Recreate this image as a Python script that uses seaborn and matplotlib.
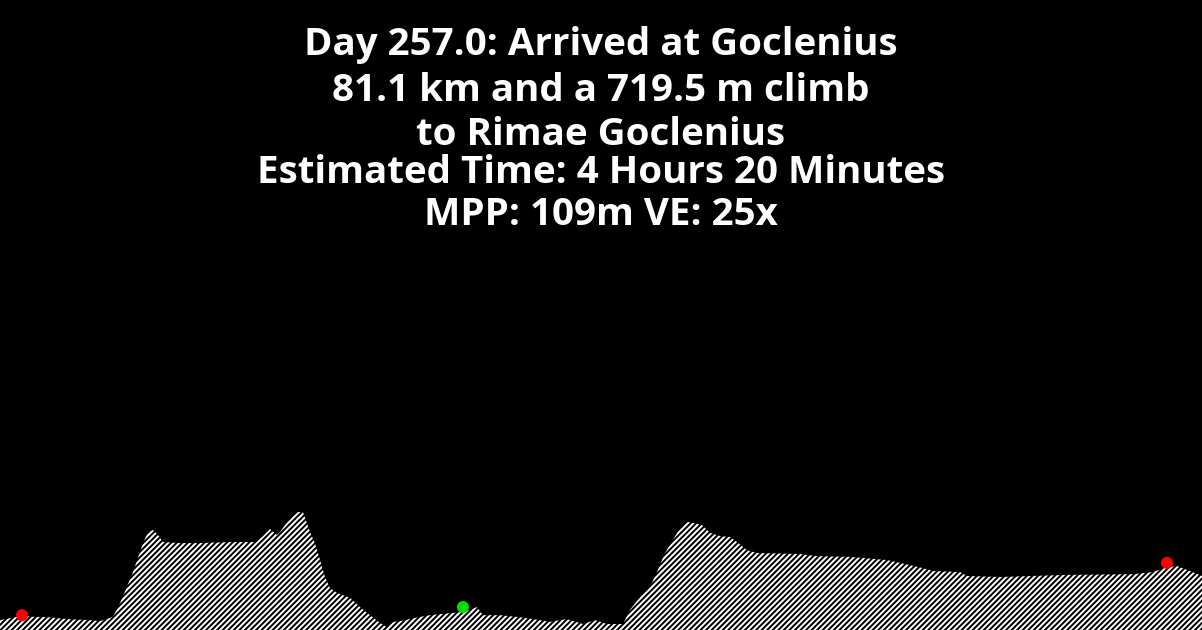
import matplotlib
matplotlib.use("Agg")
from matplotlib import pyplot as plt
import seaborn as sns
import pandas as pd

# route profile: distance along the track (km) and elevation (m, relative)
dist_km = [0.00, 1.56, 2.48, 3.19, 4.75, 6.37, 7.08, 8.00, 8.50, 9.42, 10.13, 10.48, 10.84,
           11.19, 11.55, 12.75, 14.17, 16.29, 18.06, 18.56, 19.12, 19.62, 19.83, 20.54, 21.11,
           21.46, 21.96, 22.31, 22.67, 23.02, 23.37, 23.87, 24.79, 25.50, 26.21, 26.92, 27.41,
           27.84, 28.33, 29.75, 30.46, 31.17, 32.79, 33.29, 33.79, 34.21, 35.42, 36.62, 37.75,
           38.96, 40.16, 41.29, 42.14, 42.99, 44.13, 44.62, 45.33, 46.04, 46.53, 47.10, 47.67,
           48.16, 48.66, 49.09, 49.72, 50.29, 51.00, 51.71, 52.20, 52.91, 53.62, 56.66, 57.87,
           60.21, 62.83, 63.75, 65.38, 66.08, 68.00, 68.49, 70.83, 73.17, 75.58, 80.25, 81.67,
           82.66, 83.37, 84.29, 85.14]
elev_m = [28, 40, 37, 37, 31, 28, 25, 37, 76, 164, 246, 277, 283,
          269, 249, 246, 246, 249, 249, 263, 286, 269, 277, 317, 334,
          334, 277, 246, 198, 150, 119, 105, 91, 65, 42, 20, 8,
          23, 25, 37, 42, 45, 51, 57, 65, 42, 42, 37, 31,
          23, 31, 17, 28, 17, 17, 57, 93, 122, 164, 218, 255,
          289, 306, 303, 297, 275, 266, 263, 249, 226, 218, 215, 209,
          207, 198, 190, 175, 167, 164, 153, 150, 153, 156, 158, 164,
          178, 181, 167, 153]

# markers: start, current position, end
marker_km = [1.56, 32.79, 82.66]
marker_m = [42, 65, 190]
marker_kind = ["start", "here", "end"]

title_lines = ["Day 257.0: Arrived at Goclenius",
               "81.1 km and a 719.5 m climb",
               "to Rimae Goclenius",
               "Estimated Time: 4 Hours 20 Minutes",
               "MPP: 109m VE: 25x"]
title_y = [0.929, 0.855, 0.786, 0.725, 0.658]

sns.set_style("dark", {"axes.facecolor": "black", "figure.facecolor": "black"})
plt.rcParams["hatch.linewidth"] = 1.4
plt.rcParams["font.family"] = ["Open Sans", "DejaVu Sans"]

fig = plt.figure(figsize=(12.02, 6.3), dpi=100)
ax = fig.add_axes([0, 0, 1, 1])
ax.set_facecolor("black")

ax.fill_between(dist_km, elev_m, 0, facecolor="black", edgecolor="white",
                hatch="//////", linewidth=0)

markers = pd.DataFrame({"km": marker_km, "m": marker_m, "kind": marker_kind})
sns.scatterplot(data=markers, x="km", y="m", hue="kind",
                palette={"start": "#ff0000", "here": "#00dd00", "end": "#ff0000"},
                s=75, edgecolor="none", legend=False, ax=ax, zorder=5)

ax.set_xlim(0, 85.14)
ax.set_ylim(0, 1783)
ax.axis("off")

for line, y in zip(title_lines, title_y):
    fig.text(0.5, y, line, ha="center", va="center", color="white",
             fontsize=27.7, fontweight="bold")

fig.savefig("out.png", dpi=100, facecolor="black")
